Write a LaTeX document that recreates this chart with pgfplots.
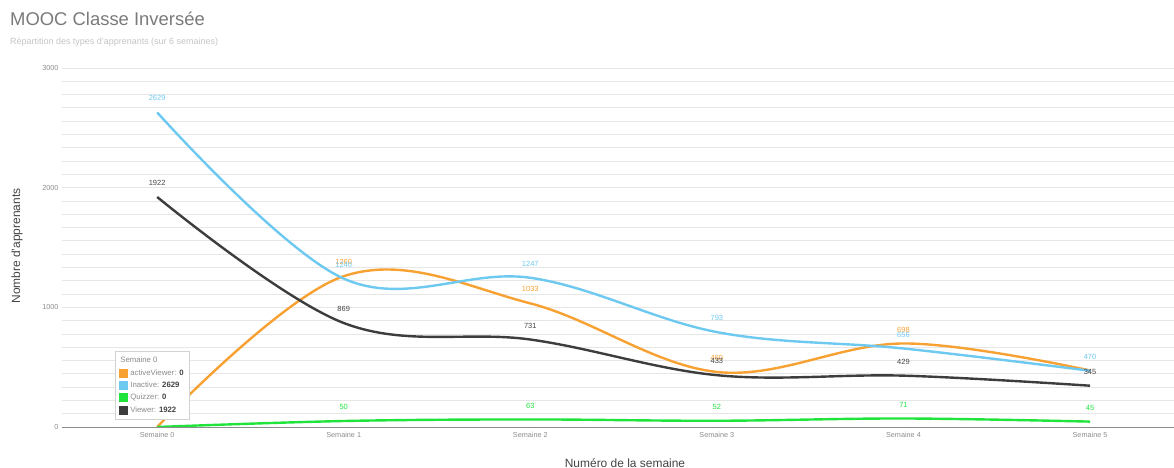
\documentclass[border=0pt]{standalone}
\usepackage{pgfplots}
\pgfplotsset{compat=1.18}
\usepackage{fontspec}
\setmainfont{Liberation Sans}
\definecolor{cOrange}{HTML}{F8A133}
\definecolor{cBlue}{HTML}{6EC9F1}
\definecolor{cGreen}{HTML}{20E33C}
\definecolor{cDark}{HTML}{3D3D3D}
\definecolor{gridc}{HTML}{E6E6E6}
\definecolor{tickc}{HTML}{8C8C8C}
\definecolor{titlec}{HTML}{7A7A7A}
\definecolor{subc}{HTML}{C4C4C4}
\definecolor{labc}{HTML}{444444}
\begin{document}
\begin{tikzpicture}[x=1bp,y=1bp]
\path[use as bounding box] (0,0) rectangle (1174,468);
\node[anchor=west, inner sep=0, text=titlec, font=\fontsize{18.5}{20}\selectfont] at (10,449) {MOOC Classe Inversée};
\node[anchor=west, inner sep=0, text=subc, font=\fontsize{9}{10}\selectfont] at (10,426) {Répartition des types d'apprenants (sur 6 semaines)};
\node[rotate=90, inner sep=0, text=labc, font=\fontsize{12}{14}\selectfont] at (17,222) {Nombre d'apprenants};
\node[inner sep=0, text=labc, font=\fontsize{12}{14}\selectfont] at (625,5) {Numéro de la semaine};
\begin{axis}[
  at={(62bp,41bp)}, anchor=south west,
  scale only axis, width=1112bp, height=359bp,
  xmin=-0.51, xmax=5.45, ymin=0, ymax=3000,
  axis x line*=bottom, axis y line*=left,
  y axis line style={draw=none},
  x axis line style={draw=tickc,-},
  xtick={0,1,2,3,4,5},
  xticklabels={Semaine 0,Semaine 1,Semaine 2,Semaine 3,Semaine 4,Semaine 5},
  ytick={0,1000,2000,3000},
  /pgf/number format/assume math mode=true,
  /pgf/number format/1000 sep={},
  minor y tick num=8,
  ymajorgrids, yminorgrids,
  major grid style={draw=gridc, line width=0.8bp},
  minor grid style={draw=gridc, line width=0.8bp},
  major tick length=0pt, minor tick length=0pt,
  tick label style={font=\fontsize{7.3}{8}\selectfont, text=tickc},
  xticklabel style={yshift=-2bp},
  point meta=explicit symbolic,
  nodes near coords,
  nodes near coords style={anchor=center, yshift=14bp, font=\fontsize{7.5}{8}\selectfont},
  every axis plot/.append style={smooth, tension=0.6, line width=2.4bp, no markers},
  legend image code/.code={\fill[#1,draw=none] (0bp,-4.5bp) rectangle (9bp,4.5bp);},
  legend cell align=left,
  legend style={at={(axis cs:-0.225,632)}, anchor=north west, draw=gray!35, fill=white,
    font=\fontsize{7.8}{9}\selectfont, text=tickc, row sep=1.3bp, inner xsep=4bp, inner ysep=3.5bp},
]
\addlegendimage{empty legend}
\addlegendentry{\hspace{-10bp}Semaine 0}
\addplot[color=cOrange, every node near coord/.append style={text=cOrange}] coordinates {
 (0,0)[] (1,1260)[1260] (2,1033)[1033] (3,460)[460] (4,698)[698] (5,472)[]};
\addlegendentry{activeViewer: \textcolor{labc}{\textbf{0}}}
\addplot[color=cBlue, every node near coord/.append style={text=cBlue}] coordinates {
 (0,2629)[2629] (1,1240)[1240] (2,1247)[1247] (3,793)[793] (4,656)[656] (5,470)[470]};
\addlegendentry{Inactive: \textcolor{labc}{\textbf{2629}}}
\addplot[color=cGreen, every node near coord/.append style={text=cGreen}] coordinates {
 (0,0)[] (1,50)[50] (2,63)[63] (3,52)[52] (4,71)[71] (5,45)[45]};
\addlegendentry{Quizzer: \textcolor{labc}{\textbf{0}}}
\addplot[color=cDark, every node near coord/.append style={text=labc}] coordinates {
 (0,1922)[1922] (1,869)[869] (2,731)[731] (3,433)[433] (4,429)[429] (5,345)[345]};
\addlegendentry{Viewer: \textcolor{labc}{\textbf{1922}}}
\end{axis}
\end{tikzpicture}
\end{document}
